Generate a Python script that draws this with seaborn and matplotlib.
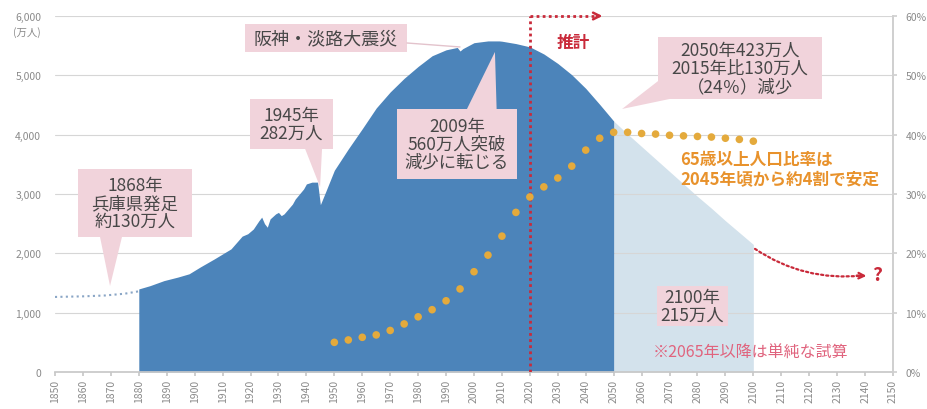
"""
兵庫県の総人口の推移（1850〜2150年）と65歳以上人口比率を
面グラフ＋ドットで描き、out.png に保存する。
"""

import matplotlib
matplotlib.use('Agg')
import matplotlib.pyplot as plt
import matplotlib.ticker as mticker
from matplotlib.patches import Rectangle, Polygon
import pandas as pd
import seaborn as sns

# ---- データ ----
# 県発足前の推定（点線）
pre_years = [1850, 1860, 1868, 1875, 1880]
pre_pop = [1265, 1275, 1290, 1320, 1360]

# 実績〜推計（濃い面）
pop_years = [1880, 1884, 1889, 1894, 1898, 1902, 1907, 1913, 1917, 1919,
             1921, 1923, 1924, 1925, 1926, 1927, 1929, 1930, 1931, 1932,
             1935, 1936, 1939, 1940, 1942, 1944, 1945, 1947, 1950, 1955,
             1960, 1965, 1970, 1975, 1980, 1985, 1990, 1994, 1995, 1996,
             2000, 2005, 2009, 2010, 2015, 2020, 2025, 2030, 2035, 2040,
             2045, 2050]
pop_values = [1400, 1455, 1540, 1600, 1655, 1770, 1905, 2075, 2290, 2330,
              2410, 2550, 2610, 2500, 2440, 2580, 2665, 2690, 2635, 2665,
              2830, 2915, 3085, 3170, 3200, 3200, 2820, 3050, 3400, 3760,
              4100, 4450, 4720, 4950, 5150, 5330, 5430, 5470, 5410, 5450,
              5550, 5580, 5580, 5575, 5535, 5480, 5360, 5200, 5010, 4780,
              4510, 4230]

# 2065年以降の単純試算（薄い面）
proj_years = [2050, 2055, 2060, 2065, 2070, 2075, 2080, 2085, 2090, 2095, 2100]
proj_values = [4230, 4010, 3800, 3590, 3380, 3170, 2960, 2760, 2550, 2350, 2150]

# 65歳以上人口比率（%）
ratio_years = [1950, 1955, 1960, 1965, 1970, 1975, 1980, 1985, 1990, 1995,
               2000, 2005, 2010, 2015, 2020, 2025, 2030, 2035, 2040, 2045,
               2050, 2055, 2060, 2065, 2070, 2075, 2080, 2085, 2090, 2095, 2100]
ratio_values = [5.0, 5.4, 5.85, 6.25, 7.0, 8.1, 9.3, 10.5, 12.0, 14.0,
                16.9, 19.7, 22.9, 26.9, 29.5, 31.2, 32.7, 34.7, 37.4, 39.4,
                40.4, 40.4, 40.2, 40.1, 39.9, 39.8, 39.7, 39.6, 39.4, 39.2, 38.9]

x_ticks = list(range(1850, 2151, 10))
y_ticks = [0, 1000, 2000, 3000, 4000, 5000, 6000]
pct_ticks = [0, 0.1, 0.2, 0.3, 0.4, 0.5, 0.6]

# ---- 色 ----
BLUE = '#4c84ba'
LIGHT = '#d3e2ec'
PINK = '#f1d3db'
TXT = '#474747'
RED = '#c92a3a'
ORANGE = '#e8922c'
DOT = '#e4aa3c'
GREY = '#8a8a8a'


def main():
    sns.set_theme(style='white')
    plt.rcParams['font.family'] = ['Noto Sans CJK JP', 'DejaVu Sans']
    plt.rcParams['axes.unicode_minus'] = False

    fig = plt.figure(figsize=(9.27, 4.1), dpi=100)
    ax = fig.add_axes([55 / 927, 37 / 410, 838 / 927, 356 / 410])

    # グリッド（薄い面の上、濃い面の下）
    for v in y_ticks[1:]:
        ax.axhline(v, color='#d6d6d6', lw=0.8, zorder=0.6)

    # 面
    ax.fill_between(proj_years, proj_values, 0, color=LIGHT, lw=0, zorder=0.5)
    ax.fill_between(pop_years, pop_values, 0, color=BLUE, lw=0, zorder=1)

    # 県発足前（点線）
    pre_df = pd.DataFrame({'year': pre_years, 'pop': pre_pop})
    sns.lineplot(data=pre_df, x='year', y='pop', ax=ax, color='#8aa6c6',
                 lw=1.5, linestyle=(0, (1, 1.6)), zorder=2)

    # 推計の区切り
    ax.plot([2020, 2020], [0, 6000], color=RED, lw=2, linestyle=(0, (1, 1.2)), zorder=3)
    ax.plot([2020, 2044], [6000, 6000], color=RED, lw=2, linestyle=(0, (1, 1.2)),
            zorder=3, clip_on=False)
    ax.annotate('', xy=(2047, 6000), xytext=(2043, 6000),
                arrowprops=dict(arrowstyle='->', color=RED, lw=1.8,
                                mutation_scale=12), annotation_clip=False)
    ax.text(2035.4, 5560, '推計', color=RED, fontsize=12, fontweight='bold',
            ha='center', va='center')

    # 2100年以降の不明部分
    ax.annotate('', xy=(2139, 1625), xytext=(2100.6, 2075),
                arrowprops=dict(arrowstyle='-', color=RED, lw=1.6,
                                linestyle=(0, (1, 1.3)),
                                connectionstyle='arc3,rad=0.18',
                                shrinkA=0, shrinkB=0))
    ax.annotate('', xy=(2140.5, 1620), xytext=(2137, 1625),
                arrowprops=dict(arrowstyle='->', color=RED, lw=1.6,
                                mutation_scale=10, shrinkA=0, shrinkB=0))
    ax.text(2144.5, 1640, '?', color=RED, fontsize=14, fontweight='bold',
            ha='center', va='center')

    # 吹き出し
    def callout(x0, x1, y0, y1, tail, text, tx, ty, size=12.5):
        ax.add_patch(Rectangle((x0, y0), x1 - x0, y1 - y0, fc=PINK, ec='none', zorder=5))
        if tail:
            ax.add_patch(Polygon(tail, closed=True, fc=PINK, ec='none', zorder=5))
        ax.text(tx, ty, text, ha='center', va='center', fontsize=size,
                color=TXT, linespacing=1.0, zorder=6)

    callout(1858.2, 1899.0, 2275, 3422,
            [(1866.1, 2280), (1874.0, 2280), (1869.7, 1450)],
            '1868年\n兵庫県発足\n約130万人', 1878.6, 2848)
    callout(1919.8, 1949.5, 3759, 4601,
            [(1939.5, 3765), (1945.6, 3765), (1944.9, 3118)],
            '1945年\n282万人', 1934.6, 4180)
    callout(1918.0, 1976.0, 5394, 5866, None,
            '阪神・淡路大震災', 1947.0, 5630, size=13)
    ax.plot([1976.0, 1995.0], [5545, 5478], color='#e3c3cc', lw=1.0, zorder=5)
    callout(1972.4, 2015.4, 3253, 4433,
            [(1997.4, 4425), (2008.1, 4425), (2007.5, 5394)],
            '2009年\n560万人突破\n減少に転じる', 1993.9, 3843)
    callout(2065.9, 2124.6, 4601, 5646,
            [(2065.9, 4904), (2070.9, 4610), (2053.0, 4433)],
            '2050年423万人\n2015年比130万人\n（24％）減少', 2095.2, 5124)
    callout(2065.5, 2090.9, 775, 1450, None,
            '2100年\n215万人', 2078.0, 1112)

    ax.text(2073.8, 3420, '65歳以上人口比率は\n2045年頃から約4割で安定',
            color=ORANGE, fontsize=12, fontweight='bold', ha='left',
            va='center', linespacing=1.1, zorder=6)
    ax.text(2064.1, 337, '※2065年以降は単純な試算', color='#e0647e',
            fontsize=11.5, ha='left', va='center', zorder=6)

    # 軸
    ax.set_xlim(1850, 2150)
    ax.set_ylim(0, 6000)
    ax.set_xticks(x_ticks)
    ax.set_xticklabels([str(t) for t in x_ticks], rotation=90)
    ax.set_yticks(y_ticks)
    ax.yaxis.set_major_formatter(mticker.StrMethodFormatter('{x:,.0f}'))
    ax.tick_params(axis='x', length=3, color='#c8c8c8', labelsize=7.5,
                   labelcolor=GREY, pad=2, bottom=True)
    ax.tick_params(axis='y', length=0, labelsize=7.5, labelcolor=GREY, pad=10)
    ax.set_xlabel('')
    ax.set_ylabel('')
    for s in ['top', 'left']:
        ax.spines[s].set_visible(False)
    ax.spines['bottom'].set_color('#c8c8c8')
    ax.spines['right'].set_color('#d0d0d0')
    ax.text(1840, 5740, '(万人)', fontsize=7.5, color=GREY, ha='center',
            va='center', clip_on=False)

    # 65歳以上人口比率（右軸）
    ax2 = ax.twinx()
    ratio_df = pd.DataFrame({'year': ratio_years,
                             'ratio': [r / 100 for r in ratio_values]})
    sns.scatterplot(data=ratio_df, x='year', y='ratio', ax=ax2, color=DOT,
                    s=30, edgecolor='none', zorder=4)
    ax2.set_ylim(0, 0.6)
    ax2.set_yticks(pct_ticks)
    ax2.yaxis.set_major_formatter(mticker.PercentFormatter(1.0, decimals=0))
    ax2.tick_params(axis='y', length=3, color='#d0d0d0', labelsize=7.5,
                    labelcolor=GREY, pad=6)
    ax2.set_ylabel('')
    ax2.set_xlabel('')
    for s in ['top', 'left', 'bottom']:
        ax2.spines[s].set_visible(False)
    ax2.spines['right'].set_color('#d0d0d0')
    ax2.set_xlim(1850, 2150)

    fig.savefig('out.png', dpi=100)
    plt.close(fig)


if __name__ == '__main__':
    main()
